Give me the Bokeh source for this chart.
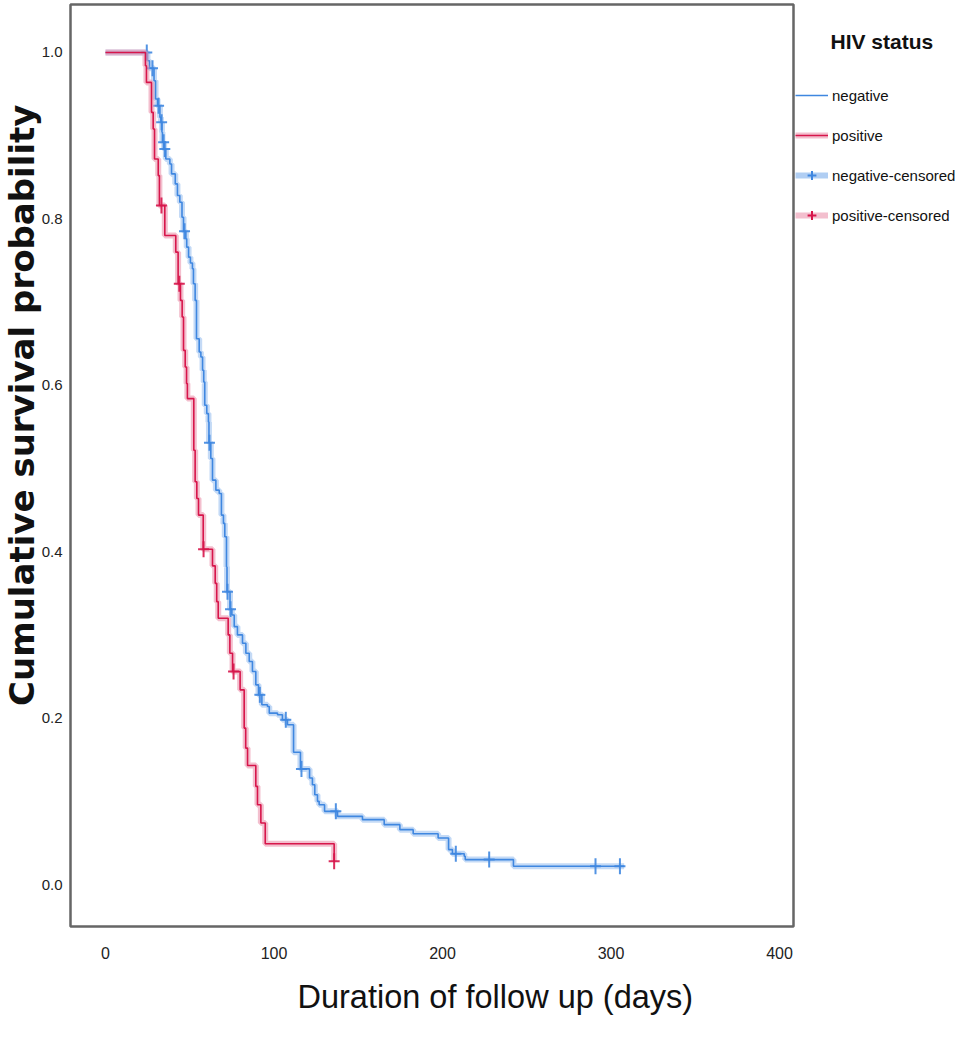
import numpy as np
from bokeh.plotting import figure
from bokeh.layouts import row
from bokeh.models import (Range1d, FixedTicker, PrintfTickFormatter, Legend,
                          LegendItem, Label, Title)
from bokeh.embed import file_html
from bokeh.resources import INLINE

# ---------------- data ----------------
neg_event_days = [24.9, 26.1, 28.8, 29.7, 30.9, 32.3, 32.9, 33.5, 33.8, 34.8, 35.8, 38.2,
                  39.2, 41.4, 42.7, 44.1, 45.4, 46.3, 47.7, 48.2, 49.3, 50.4, 51.6, 52.2,
                  53.2, 54.0, 55.6, 56.6, 57.6, 58.3, 58.9, 60.1, 61.1, 61.4, 62.5, 63.5,
                  65.5, 67.5, 68.8, 70.0, 70.8, 71.8, 72.1, 73.9, 75.0, 76.4, 78.3, 81.3,
                  83.3, 85.3, 87.2, 89.2, 90.8, 92.8, 96.1, 97.2, 102.1, 105.0, 108.0,
                  111.6, 115.7, 121.1, 122.8, 124.2, 125.8, 126.8, 130.0, 137.7, 152.5,
                  165.4, 174.7, 182.6, 197.4, 203.6, 205.9, 212.9, 213.5, 242.1]
neg_event_surv = [0.990, 0.981, 0.966, 0.944, 0.936, 0.922, 0.916, 0.904, 0.892, 0.884,
                  0.872, 0.866, 0.854, 0.842, 0.828, 0.820, 0.802, 0.785, 0.776, 0.766,
                  0.754, 0.747, 0.740, 0.722, 0.702, 0.656, 0.640, 0.634, 0.618, 0.604,
                  0.576, 0.566, 0.556, 0.531, 0.512, 0.486, 0.474, 0.470, 0.444, 0.434,
                  0.418, 0.382, 0.352, 0.331, 0.324, 0.310, 0.300, 0.290, 0.278, 0.268,
                  0.256, 0.240, 0.228, 0.216, 0.214, 0.206, 0.204, 0.198, 0.192, 0.159,
                  0.139, 0.128, 0.120, 0.108, 0.100, 0.096, 0.088, 0.082, 0.078, 0.072,
                  0.066, 0.061, 0.056, 0.042, 0.037, 0.034, 0.030, 0.022]
neg_censor_days = [24.5, 27.9, 31.5, 33.3, 34.5, 35.2, 46.9, 61.7, 72.4, 74.2, 91.6,
                   107.0, 116.3, 136.7, 207.9, 227.7, 290.8, 305.3]
neg_last_day = 307.8

pos_event_days = [23.7, 24.3, 27.3, 28.3, 29.1, 31.3, 32.0, 35.2, 41.7, 43.1, 44.5, 45.5,
                  46.3, 47.3, 48.1, 48.6, 52.4, 53.2, 54.2, 55.2, 58.0, 63.5, 65.1, 66.0,
                  66.9, 72.8, 73.8, 75.4, 79.9, 82.3, 83.2, 84.3, 89.2, 90.2, 92.2, 94.8,
                  135.7]
pos_event_surv = [0.984, 0.964, 0.928, 0.908, 0.872, 0.852, 0.816, 0.780, 0.760, 0.722,
                  0.702, 0.682, 0.642, 0.622, 0.602, 0.584, 0.522, 0.484, 0.464, 0.444,
                  0.403, 0.383, 0.362, 0.340, 0.320, 0.300, 0.278, 0.256, 0.234, 0.188,
                  0.164, 0.143, 0.118, 0.096, 0.074, 0.049, 0.028]
pos_censor_days = [33.2, 43.8, 58.2, 76.0, 135.7]
pos_last_day = 135.7

legend_labels = ["negative", "positive", "negative-censored", "positive-censored"]
legend_title = "HIV status"
x_ticks = [0, 100, 200, 300, 400]
y_ticks = [0.0, 0.2, 0.4, 0.6, 0.8, 1.0]

# ---------------- styling ----------------
BLUE = "#3f87e0"
BLUE_HALO = "#9cc2f0"
RED = "#d7164b"
RED_HALO = "#eb95ad"
SANS = "Liberation Sans"
TXT = "#111111"


def km_curve(days, surv, last_day):
    xs = [0.0] + list(days) + [last_day]
    ys = [1.0] + list(surv) + [surv[-1]]
    return xs, ys


def surv_at(days, surv, t):
    d = np.asarray(days)
    s = np.asarray([1.0] + list(surv))
    idx = np.searchsorted(d, np.asarray(t), side="right")
    return s[idx]


p = figure(width=795, height=1030, output_backend="svg", toolbar_location=None,
           x_range=Range1d(-20.77, 408.3), y_range=Range1d(-0.0504, 1.0576),
           min_border_left=70, min_border_right=2, min_border_top=4,
           min_border_bottom=103)

p.xgrid.visible = False
p.ygrid.visible = False
p.outline_line_color = "#666666"
p.outline_line_width = 2.5
p.background_fill_color = "white"
p.border_fill_color = "white"

for ax in (p.xaxis[0], p.yaxis[0]):
    ax.axis_line_color = None
    ax.major_tick_line_color = None
    ax.minor_tick_line_color = None
    ax.major_tick_out = 0
    ax.major_tick_in = 0
    ax.major_label_text_color = "#222222"
    ax.major_label_text_font = SANS

p.xaxis.ticker = FixedTicker(ticks=x_ticks)
p.yaxis.ticker = FixedTicker(ticks=y_ticks)
p.yaxis.formatter = PrintfTickFormatter(format="%.1f")
p.xaxis.major_label_text_font_size = "16px"
p.yaxis.major_label_text_font_size = "15px"
p.xaxis.major_label_standoff = 20
p.yaxis.major_label_standoff = 8

curves = {}
for name, days, surv, last, cens, col, halo in [
        ("negative", neg_event_days, neg_event_surv, neg_last_day, neg_censor_days, BLUE, BLUE_HALO),
        ("positive", pos_event_days, pos_event_surv, pos_last_day, pos_censor_days, RED, RED_HALO)]:
    xs, ys = km_curve(days, surv, last)
    p.step(xs, ys, mode="after", line_color=halo, line_width=6, line_alpha=0.6)
    p.step(xs, ys, mode="after", line_color=col, line_width=1.6)
    cy = surv_at(days, surv, cens)
    p.scatter(cens, cy, marker="dash", size=11, line_color=col, line_width=2, line_alpha=0.9)
    p.scatter(cens, cy, marker="dash", size=16, angle=np.pi / 2, line_color=col,
              line_width=2, line_alpha=0.9)
    curves[name] = (col, halo)

p.add_layout(Title(text="Duration of follow up (days)", align="left", offset=227,
                   text_font=SANS, text_font_size="32.5px", text_font_style="normal",
                   text_color=TXT, standoff=31), "below")
p.add_layout(Title(text="Cumulative survival probability", align="right", offset=100,
                   text_font="DejaVu Sans", text_font_size="34px", text_font_style="bold",
                   text_color=TXT, standoff=-6), "left")

# ---------------- legend panel ----------------
lg = figure(width=163, height=1030, output_backend="svg", toolbar_location=None,
            x_range=Range1d(0, 1), y_range=Range1d(0, 1),
            min_border_left=0, min_border_right=0, min_border_top=4, min_border_bottom=103)
lg.axis.visible = False
lg.grid.visible = False
lg.outline_line_color = None
lg.background_fill_color = "white"
lg.border_fill_color = "white"

nb, nh = curves["negative"]
pb, ph = curves["positive"]
OFF = [-5.0, -4.0]   # sample points placed off-screen so only the legend glyph shows
r_neg = lg.line(OFF, OFF, line_color=nb, line_width=1.6)
r_pos_h = lg.line(OFF, OFF, line_color=ph, line_width=6, line_alpha=0.6)
r_pos = lg.line(OFF, OFF, line_color=pb, line_width=1.6)
r_negc_h = lg.line(OFF, OFF, line_color=nh, line_width=6, line_alpha=0.8)
r_negc = lg.scatter(OFF, OFF, marker="cross", size=22, line_color=nb, line_width=2)
r_posc_h = lg.line(OFF, OFF, line_color=ph, line_width=6, line_alpha=0.6)
r_posc = lg.scatter(OFF, OFF, marker="cross", size=22, line_color=pb, line_width=2)

items = [
    LegendItem(label=legend_labels[0], renderers=[r_neg]),
    LegendItem(label=legend_labels[1], renderers=[r_pos_h, r_pos]),
    LegendItem(label=legend_labels[2], renderers=[r_negc_h, r_negc]),
    LegendItem(label=legend_labels[3], renderers=[r_posc_h, r_posc]),
]
legend = Legend(items=items, location=(0, 700), padding=0, margin=0,
                glyph_width=33, glyph_height=22, label_height=22, spacing=18,
                label_standoff=4, border_line_color=None, background_fill_alpha=0,
                label_text_font=SANS, label_text_font_size="15px", label_text_color=TXT)
lg.add_layout(legend)
lg.add_layout(Label(x=35, y=885, x_units="screen", y_units="screen", text=legend_title,
                    text_font=SANS, text_font_style="bold", text_font_size="21px",
                    text_baseline="middle", text_color=TXT))

layout = row(p, lg, spacing=0)
open("out.html", "w").write(file_html(layout, INLINE))
